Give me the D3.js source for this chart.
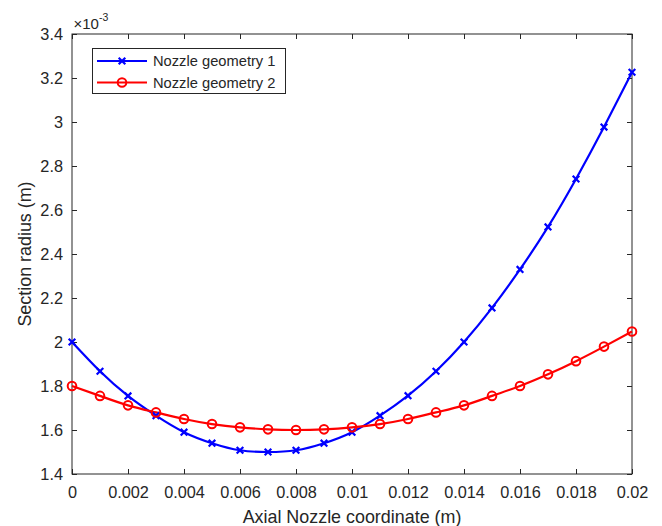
<!DOCTYPE html>
<html>
<head>
<meta charset="utf-8">
<script src="https://cdn.jsdelivr.net/npm/d3@7"></script>
<style>
  body { margin: 0; background: #fff; }
  svg text { font-family: "Liberation Sans", Arial, Helvetica, sans-serif; fill: #262626; }
</style>
</head>
<body>
<div id="chart"></div>
<script>
// axial coordinate (m) and section radius (x 10^-3 m)
var xValues = [0, 0.001, 0.002, 0.003, 0.004, 0.005, 0.006, 0.007, 0.008, 0.009, 0.010,
               0.011, 0.012, 0.013, 0.014, 0.015, 0.016, 0.017, 0.018, 0.019, 0.020];
var geometry1 = [2.0, 1.867, 1.755, 1.665, 1.59, 1.54, 1.508, 1.5, 1.508, 1.54, 1.59,
                 1.665, 1.756, 1.867, 2.0, 2.155, 2.33, 2.523, 2.741, 2.977, 3.226];
var geometry2 = [1.8, 1.755, 1.712, 1.68, 1.65, 1.627, 1.612, 1.603, 1.6, 1.603, 1.612,
                 1.627, 1.65, 1.68, 1.712, 1.755, 1.8, 1.853, 1.913, 1.979, 2.048];
var seriesNames = ["Nozzle geometry 1", "Nozzle geometry 2"];

var xTicks = [0, 0.002, 0.004, 0.006, 0.008, 0.01, 0.012, 0.014, 0.016, 0.018, 0.02];
var xTickLabels = ["0", "0.002", "0.004", "0.006", "0.008", "0.01", "0.012", "0.014", "0.016", "0.018", "0.02"];
var yTicks = [1.4, 1.6, 1.8, 2.0, 2.2, 2.4, 2.6, 2.8, 3.0, 3.2, 3.4];
var yTickLabels = ["1.4", "1.6", "1.8", "2", "2.2", "2.4", "2.6", "2.8", "3", "3.2", "3.4"];

var svgWidth = 662, svgHeight = 526;
var margin = {top: 34, right: 30, bottom: 52, left: 72};
var width = svgWidth - margin.left - margin.right;   // 560
var height = svgHeight - margin.top - margin.bottom; // 440

var svg = d3.select("#chart").append("svg")
    .attr("width", svgWidth)
    .attr("height", svgHeight);

var g = svg.append("g")
    .attr("transform", `translate(${margin.left}, ${margin.top})`);

var x = d3.scaleLinear().domain([0, 0.02]).range([0, width]);
var y = d3.scaleLinear().domain([1.4, 3.4]).range([height, 0]);

var axisColor = "#262626";
function styleAxis(sel, showText) {
  sel.select(".domain").remove();
  sel.selectAll(".tick line").attr("stroke", axisColor).attr("stroke-width", 1);
  sel.selectAll(".tick text").style("font-size", "16.3px").attr("fill", axisColor);
  if (!showText) sel.selectAll(".tick text").remove();
}

// bottom / top
g.append("g")
  .attr("transform", `translate(0, ${height})`)
  .call(d3.axisBottom(x).tickValues(xTicks).tickFormat((d, i) => xTickLabels[i])
        .tickSizeInner(-5).tickSizeOuter(0).tickPadding(12.5))
  .call(s => styleAxis(s, true));
g.append("g")
  .call(d3.axisTop(x).tickValues(xTicks).tickSizeInner(-5).tickSizeOuter(0))
  .call(s => styleAxis(s, false));
// left / right
g.append("g")
  .call(d3.axisLeft(y).tickValues(yTicks).tickFormat((d, i) => yTickLabels[i])
        .tickSizeInner(-5).tickSizeOuter(0).tickPadding(9))
  .call(s => styleAxis(s, true));
g.append("g")
  .attr("transform", `translate(${width}, 0)`)
  .call(d3.axisRight(y).tickValues(yTicks).tickSizeInner(-5).tickSizeOuter(0))
  .call(s => styleAxis(s, false));

// box
g.append("rect")
  .attr("x", 0).attr("y", 0)
  .attr("width", width).attr("height", height)
  .attr("fill", "none")
  .attr("stroke", axisColor)
  .attr("stroke-width", 1);

// exponent label
var expo = g.append("text")
  .attr("x", 1.5).attr("y", -5)
  .style("font-size", "15px");
expo.append("tspan").text("\u00d710");
expo.append("tspan").attr("dy", -8.5).style("font-size", "10.5px").text("-3");

// lines
var line = d3.line()
  .x((d, i) => x(xValues[i]))
  .y(d => y(d))
  .curve(d3.curveNatural);

var clip = svg.append("defs").append("clipPath").attr("id", "plotclip")
  .append("rect").attr("x", -2).attr("y", -2).attr("width", width + 4).attr("height", height + 4);

var plot = g.append("g").attr("clip-path", "url(#plotclip)");

plot.append("path")
  .datum(geometry1)
  .attr("d", line)
  .attr("fill", "none")
  .attr("stroke", "#0000ff")
  .attr("stroke-width", 2.2);

plot.append("path")
  .datum(geometry2)
  .attr("d", line)
  .attr("fill", "none")
  .attr("stroke", "#ff0000")
  .attr("stroke-width", 2.2);

// cross markers
var s = 3.3;
function crossPath(cx, cy) {
  return `M${cx - s},${cy - s}L${cx + s},${cy + s}M${cx - s},${cy + s}L${cx + s},${cy - s}`;
}
g.append("g").selectAll("path")
  .data(geometry1)
  .enter().append("path")
  .attr("d", (d, i) => crossPath(x(xValues[i]), y(d)))
  .attr("stroke", "#0000ff")
  .attr("stroke-width", 2.2)
  .attr("fill", "none");

// circle markers
g.append("g").selectAll("circle")
  .data(geometry2)
  .enter().append("circle")
  .attr("cx", (d, i) => x(xValues[i]))
  .attr("cy", d => y(d))
  .attr("r", 4.3)
  .attr("fill", "none")
  .attr("stroke", "#ff0000")
  .attr("stroke-width", 2);

// axis labels
svg.append("text")
  .attr("x", margin.left + width / 2)
  .attr("y", 523)
  .attr("text-anchor", "middle")
  .style("font-size", "17.9px")
  .text("Axial Nozzle coordinate (m)");

svg.append("text")
  .attr("transform", `translate(31, ${margin.top + height / 2}) rotate(-90)`)
  .attr("text-anchor", "middle")
  .style("font-size", "17.9px")
  .text("Section radius (m)");

// legend
var legend = svg.append("g").attr("transform", "translate(92.5, 48.5)");
legend.append("rect")
  .attr("width", 193).attr("height", 45)
  .attr("fill", "#fff")
  .attr("stroke", axisColor)
  .attr("stroke-width", 1);

var colors = ["#0000ff", "#ff0000"];
seriesNames.forEach(function(name, i) {
  var ly = 12.5 + i * 21.5;
  var row = legend.append("g").attr("transform", `translate(0, ${ly})`);
  row.append("line")
    .attr("x1", 4.5).attr("x2", 54.5)
    .attr("stroke", colors[i]).attr("stroke-width", 2.2);
  if (i === 0) {
    row.append("path").attr("d", crossPath(29.5, 0))
      .attr("stroke", colors[i]).attr("stroke-width", 2.2);
  } else {
    row.append("circle").attr("cx", 29.5).attr("cy", 0).attr("r", 4.3)
      .attr("fill", "none").attr("stroke", colors[i]).attr("stroke-width", 2);
  }
  row.append("text")
    .attr("x", 60.5).attr("y", 0).attr("dy", "0.36em")
    .style("font-size", "14.7px")
    .text(name);
});
</script>
</body>
</html>
